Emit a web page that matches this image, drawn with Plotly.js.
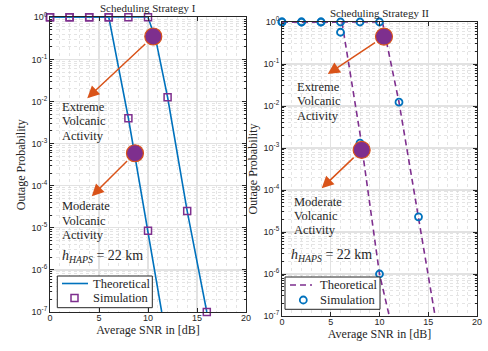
<!DOCTYPE html>
<html><head><meta charset="utf-8">
<script src="https://cdn.plot.ly/plotly-3.0.1.min.js"></script>
<style>html,body{margin:0;padding:0;background:#fff}#chart{width:488px;height:351px}</style>
</head><body><div id="chart"></div>
<script>
// ---------- Scheduling Strategy I ----------
const s1TheoModX = [0, 2, 4, 6, 8, 10, 11.4];
const s1TheoModY = [1, 1, 1, 1, 4e-3, 8.5e-6, 1e-7];
const s1TheoExtX = [0, 2, 4, 6, 8, 10, 10.8, 12, 14, 16];
const s1TheoExtY = [1, 1, 1, 1, 1, 1, 0.29, 1.26e-2, 2.5e-5, 1e-7];
const s1SimModX = [0, 2, 4, 6, 8, 10];
const s1SimModY = [1, 1, 1, 1, 4e-3, 8.5e-6];
const s1SimExtX = [0, 2, 4, 6, 8, 10, 12, 14, 16];
const s1SimExtY = [1, 1, 1, 1, 1, 1, 1.26e-2, 2.5e-5, 1e-7];
const s1MarkX = [10.54, 8.67];
const s1MarkY = [0.35, 5.9e-4];
const s1ArrowHeadX = [3.8, 4.26];
const s1ArrowHeadLogY = [-1.92, -4.25];

// ---------- Scheduling Strategy II ----------
const s2TheoModX = [0, 2, 4, 6.15, 8, 10, 11.0];
const s2TheoModY = [1, 1, 1, 1, 2.2e-3, 1e-6, 1e-7];
const s2TheoExtX = [0, 2, 4, 6, 8, 10.3, 12, 14, 15.7];
const s2TheoExtY = [1, 1, 1, 1, 1, 1, 1.23e-2, 2.3e-5, 1e-7];
const s2SimModX = [0, 2, 4, 6, 8, 10];
const s2SimModY = [1, 1, 1, 0.57, 1.3e-3, 1e-6];
const s2SimExtX = [0, 2, 4, 6, 8, 10, 12, 14];
const s2SimExtY = [1, 1, 1, 1, 1, 1, 1.23e-2, 2.3e-5];
const s2MarkX = [10.46, 8.17];
const s2MarkY = [0.45, 9e-4];
const s2ArrowHeadX = [4.69, 4.07];
const s2ArrowHeadLogY = [-1.24, -3.96];

// ---------- labels ----------
const panelTitles = ['Scheduling Strategy I', 'Scheduling Strategy II'];
const legendNames = ['Theoretical', 'Simulation'];
const xTitle = 'Average SNR in [dB]';
const yTitle = 'Outage Probability';
const yTickVals = [1e-7, 1e-6, 1e-5, 1e-4, 1e-3, 1e-2, 1e-1, 1];
const yTickText = ['10<sup>-7</sup>', '10<sup>-6</sup>', '10<sup>-5</sup>', '10<sup>-4</sup>',
                   '10<sup>-3</sup>', '10<sup>-2</sup>', '10<sup>-1</sup>', '10<sup>0</sup>'];
const extremeLines = ['Extreme', 'Volcanic', 'Activity'];
const moderateLines = ['Moderate', 'Volcanic', 'Activity'];
const hapsText = '<i>h</i><sub><i>HAPS</i></sub> = 22 km';

const BLUE = '#0072BD', PURPLE = '#7E2F8E', ORANGE = '#D95319', INK = '#262626';
const SERIF = 'Liberation Serif, Times New Roman, serif';
const SANS = 'Liberation Sans, Arial, sans-serif';
const W = 488, H = 351;
const px = v => v / W, py = v => 1 - v / H;

const yMinor = [];
for (let d = -7; d < 0; d++) for (let m = 2; m <= 9; m++) yMinor.push(m * Math.pow(10, d));

const join = (a, b) => a.concat([null], b);

const traces = [
  // Strategy I
  {x: join(s1TheoModX, s1TheoExtX), y: join(s1TheoModY, s1TheoExtY), xaxis: 'x', yaxis: 'y',
   mode: 'lines', name: legendNames[0], line: {color: BLUE, width: 1.6}, cliponaxis: false, showlegend: false},
  {x: join(s1SimModX, s1SimExtX), y: join(s1SimModY, s1SimExtY), xaxis: 'x', yaxis: 'y',
   mode: 'markers', name: legendNames[1], marker: {symbol: 'square-open', size: 7, color: PURPLE, line: {width: 1.5, color: PURPLE}},
   cliponaxis: false, showlegend: false},
  {x: s1MarkX, y: s1MarkY, xaxis: 'x', yaxis: 'y', mode: 'markers', showlegend: false,
   marker: {symbol: 'circle', size: 17, color: PURPLE, line: {width: 1.2, color: ORANGE}}, cliponaxis: false},
  // Strategy II
  {x: join(s2TheoModX, s2TheoExtX), y: join(s2TheoModY, s2TheoExtY), xaxis: 'x2', yaxis: 'y2',
   mode: 'lines', name: legendNames[0], line: {color: PURPLE, width: 1.6, dash: '6px,4px'}, cliponaxis: false, showlegend: false},
  {x: join(s2SimModX, s2SimExtX), y: join(s2SimModY, s2SimExtY), xaxis: 'x2', yaxis: 'y2',
   mode: 'markers', name: legendNames[1], marker: {symbol: 'circle-open', size: 7, color: BLUE, line: {width: 1.8, color: BLUE}},
   cliponaxis: false, showlegend: false},
  {x: s2MarkX, y: s2MarkY, xaxis: 'x2', yaxis: 'y2', mode: 'markers', showlegend: false,
   marker: {symbol: 'circle', size: 17, color: PURPLE, line: {width: 1.2, color: ORANGE}}, cliponaxis: false}
];

function xAxis(domain, anchor) {
  return {domain, anchor, range: [0, 20], tick0: 0, dtick: 5, ticks: 'inside', ticklen: 4, tickcolor: INK,
    showline: true, linecolor: INK, linewidth: 1, mirror: 'ticks', zeroline: false,
    showgrid: true, gridcolor: '#e2e2e2', gridwidth: 1.2, ticklabelstandoff: -3,
    tickfont: {family: SANS, size: 9, color: INK},
    minor: {dtick: 1, showgrid: true, gridcolor: '#d8d8d8', griddash: 'dot', gridwidth: 0.7},
    title: {text: xTitle, font: {family: SERIF, size: 12, color: INK}, standoff: 3}, automargin: false};
}
function yAxis(domain, anchor) {
  return {domain, anchor, type: 'log', range: [-7, 0], tickmode: 'array', tickvals: yTickVals, ticktext: yTickText,
    ticks: 'inside', ticklen: 4, tickcolor: INK, showline: true, linecolor: INK, linewidth: 1, mirror: 'ticks',
    zeroline: false, showgrid: true, gridcolor: '#e2e2e2', gridwidth: 1.2,
    tickfont: {family: SANS, size: 9, color: INK},
    minor: {tickmode: 'array', tickvals: yMinor, ticks: 'inside', ticklen: 2, tickcolor: INK,
            showgrid: true, gridcolor: '#d8d8d8', griddash: 'dot', gridwidth: 0.7},
    title: {text: yTitle, font: {family: SERIF, size: 12, color: INK}, standoff: 3}, automargin: false};
}

const annotations = [];
const shapes = [];
function textAnn(xref, yref, x, logy, text, size) {
  annotations.push({xref, yref, x, y: logy, text, showarrow: false, xanchor: 'left', yanchor: 'middle',
    font: {family: SERIF, size: size || 12.5, color: INK}});
}
function arrowAnn(xref, yref, hx, hlogy, tx, tlogy) {
  annotations.push({xref, yref, x: hx, y: hlogy, axref: xref, ayref: yref, ax: tx, ay: tlogy,
    text: '', showarrow: true, arrowhead: 2, arrowsize: 1.6, arrowwidth: 1.5, arrowcolor: ORANGE, startstandoff: 9});
}
// panel titles
annotations.push({xref: 'x domain', yref: 'y domain', x: 0.5, y: 1, yanchor: 'middle', yshift: 9, showarrow: false,
  text: panelTitles[0], font: {family: SERIF, size: 11, color: INK}});
annotations.push({xref: 'x2 domain', yref: 'y2 domain', x: 0.5, y: 1, yanchor: 'middle', yshift: 9, showarrow: false,
  text: panelTitles[1], font: {family: SERIF, size: 11, color: INK}});
// Strategy I texts
[-2.13, -2.47, -2.81].forEach((v, i) => textAnn('x', 'y', 1.0, v, extremeLines[i]));
[-4.49, -4.84, -5.18].forEach((v, i) => textAnn('x', 'y', 1.0, v, moderateLines[i]));
textAnn('x', 'y', 1.05, -5.67, hapsText, 14);
// Strategy II texts
[-1.55, -1.89, -2.23].forEach((v, i) => textAnn('x2', 'y2', 1.33, v, extremeLines[i]));
[-4.28, -4.62, -4.96].forEach((v, i) => textAnn('x2', 'y2', 1.03, v, moderateLines[i]));
textAnn('x2', 'y2', 0.7, -5.57, hapsText, 14);
// arrows
for (let i = 0; i < 2; i++) {
  arrowAnn('x', 'y', s1ArrowHeadX[i], s1ArrowHeadLogY[i], s1MarkX[i], Math.log10(s1MarkY[i]));
  arrowAnn('x2', 'y2', s2ArrowHeadX[i], s2ArrowHeadLogY[i], s2MarkX[i], Math.log10(s2MarkY[i]));
}

// legend boxes (pixel layout of each panel's legend)
function legendBox(box, lineSample, lineStyle, marker, textX, rowY) {
  shapes.push({type: 'rect', xref: 'paper', yref: 'paper', x0: px(box[0]), x1: px(box[1]), y0: py(box[3]), y1: py(box[2]),
    line: {color: INK, width: 1}, fillcolor: '#ffffff', layer: 'above'});
  shapes.push({type: 'line', xref: 'paper', yref: 'paper', x0: px(lineSample[0]), x1: px(lineSample[1]),
    y0: py(rowY[0]), y1: py(rowY[0]), line: lineStyle, layer: 'above'});
  shapes.push({type: marker.type, xref: 'paper', yref: 'paper', xsizemode: 'pixel', ysizemode: 'pixel',
    xanchor: px(marker.x), yanchor: py(rowY[1]), x0: -3.5, x1: 3.5, y0: -3.5, y1: 3.5,
    line: {color: marker.color, width: marker.width}, fillcolor: 'rgba(0,0,0,0)', layer: 'above'});
  legendNames.forEach((name, i) => annotations.push({xref: 'paper', yref: 'paper', x: px(textX), y: py(rowY[i]),
    xanchor: 'left', yanchor: 'middle', showarrow: false, text: name, font: {family: SERIF, size: 12.5, color: INK}}));
}
legendBox([57.3, 152.3, 276, 307.7], [62, 88], {color: BLUE, width: 1.6},
  {type: 'rect', x: 74.5, color: PURPLE, width: 1.5}, 90.5, [283.5, 298]);
legendBox([285, 380, 277, 309.3], [290, 312], {color: PURPLE, width: 1.6, dash: '6px,4px'},
  {type: 'circle', x: 303.3, color: BLUE, width: 1.8}, 317.5, [285, 300]);

const layout = {
  width: W, height: H, margin: {l: 0, r: 0, t: 0, b: 0},
  paper_bgcolor: '#ffffff', plot_bgcolor: '#ffffff', showlegend: false,
  xaxis: xAxis([50 / W, 246 / W], 'y'),
  yaxis: yAxis([39 / H, 333.7 / H], 'x'),
  xaxis2: xAxis([282 / W, 477 / W], 'y2'),
  yaxis2: yAxis([35 / H, 329 / H], 'x2'),
  annotations, shapes
};

Plotly.newPlot('chart', traces, layout, {displayModeBar: false, staticPlot: true});
</script>
</body></html>
